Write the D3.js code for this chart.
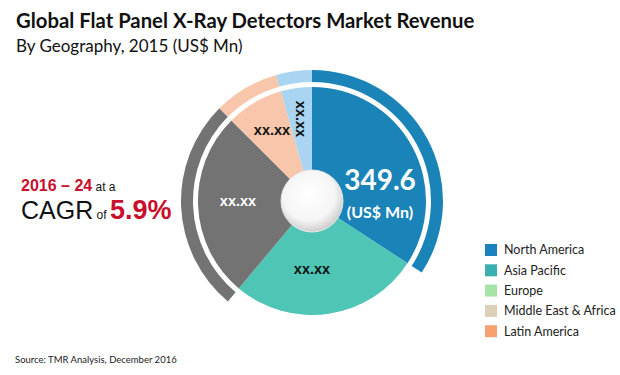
<!DOCTYPE html>
<html>
<head>
<meta charset="utf-8">
<script src="https://cdn.jsdelivr.net/npm/d3@7"></script>
<style>
    body { margin: 0; background: #fff; }
    .calib { font-family: Lato, "Open Sans", sans-serif; }
    .arial { font-family: "Liberation Sans", Arial, sans-serif; }
</style>
</head>
<body>
<div id="chart"></div>
<script>
// pie slices (share of the circle)
const regions = ["North America", "Asia Pacific", "Rest of World", "Latin America", "Middle East & Africa"];
const shares = [34.2, 26.9, 26.4, 8.1, 4.4];
const sliceLabels = ["", "xx.xx", "xx.xx", "xx.xx", "xx.xx"];
const sliceColors = ["#1a84b8", "#4ec5b5", "#737373", "#f8c6aa", "#a9d5f3"];
const hasRing = [true, false, true, true, true];

// legend
const legendNames = ["North America", "Asia Pacific", "Europe", "Middle East & Africa", "Latin America"];
const legendColors = ["#1b7fc0", "#3aafb0", "#a6e3a6", "#ddd0b8", "#f7a070"];

const totalValue = "349.6";

let width = 620, height = 375;
let cx = 312, cy = 201;

let svg = d3.select("#chart").append("svg")
    .attr("width", width)
    .attr("height", height);

// title
svg.append("text")
    .attr("class", "calib")
    .attr("x", 16).attr("y", 28)
    .style("font-size", "20.3px")
    .style("font-weight", "bold")
    .attr("fill", "#111")
    .text("Global Flat Panel X-Ray Detectors Market Revenue");

svg.append("text")
    .attr("class", "calib")
    .attr("x", 16).attr("y", 52)
    .style("font-size", "17px")
    .attr("fill", "#111")
    .text("By Geography, 2015 (US$ Mn)");

// pie
let data = regions.map((r, i) => ({region: r, share: shares[i], label: sliceLabels[i], color: sliceColors[i], ring: hasRing[i]}));

let pie = d3.pie().sort(null).value(d => d.share);
let arcs = pie(data);

let g = svg.append("g").attr("transform", "translate(" + cx + "," + cy + ")");

let arc = d3.arc().innerRadius(0).outerRadius(114);
let ringArc = d3.arc().innerRadius(119).outerRadius(131);

g.selectAll(".ring")
    .data(arcs.filter(d => d.data.ring))
    .enter().append("path")
    .attr("class", "ring")
    .attr("fill", d => d.data.color)
    .attr("d", ringArc);

g.selectAll(".slice")
    .data(arcs)
    .enter().append("path")
    .attr("class", "slice")
    .attr("fill", d => d.data.color)
    .attr("d", arc);

// centre knob
let defs = svg.append("defs");
let grad = defs.append("radialGradient")
    .attr("id", "knob")
    .attr("cx", "45%").attr("cy", "40%").attr("r", "60%");
grad.append("stop").attr("offset", "0%").attr("stop-color", "#ffffff");
grad.append("stop").attr("offset", "70%").attr("stop-color", "#f5f5f5");
grad.append("stop").attr("offset", "100%").attr("stop-color", "#cdcdcd");

g.append("circle")
    .attr("r", 31)
    .attr("fill", "url(#knob)")
    .attr("stroke", "#e8e8e8")
    .attr("stroke-width", 1);

// slice labels
let labelPos = {
    "Asia Pacific": [0, 68, 0, "#111"],
    "Rest of World": [-74, 0, 0, "#fff"],
    "Latin America": [-40, -71, 0, "#111"],
    "Middle East & Africa": [-11, -82, 90, "#111"]
};
g.selectAll(".slabel")
    .data(arcs.filter(d => d.data.label !== ""))
    .enter().append("text")
    .attr("class", "slabel arial")
    .attr("text-anchor", "middle")
    .attr("dy", "0.35em")
    .attr("transform", d => {
        let p = labelPos[d.data.region];
        return "translate(" + p[0] + "," + p[1] + ") rotate(" + p[2] + ")";
    })
    .attr("fill", d => labelPos[d.data.region][3])
    .style("font-size", "14.5px")
    .style("font-weight", "bold")
    .text(d => d.data.label);

g.append("text")
    .attr("class", "calib")
    .attr("x", 68).attr("y", -11)
    .attr("text-anchor", "middle")
    .attr("fill", "#fff")
    .style("font-size", "28px")
    .style("font-weight", "bold")
    .text(totalValue);

g.append("text")
    .attr("class", "calib")
    .attr("x", 68).attr("y", 17)
    .attr("text-anchor", "middle")
    .attr("fill", "#fff")
    .style("font-size", "16px")
    .style("font-weight", "bold")
    .text("(US$ Mn)");

// CAGR note
let t1 = svg.append("text").attr("class", "arial").attr("x", 21).attr("y", 191);
t1.append("tspan").attr("fill", "#c8102e").style("font-size", "16px").style("font-weight", "bold").text("2016 \u2013 24");
t1.append("tspan").attr("fill", "#111").style("font-size", "12px").text(" at a");

let t2 = svg.append("text").attr("class", "arial").attr("x", 21).attr("y", 219);
t2.append("tspan").attr("fill", "#111").style("font-size", "25px").text("CAGR");
t2.append("tspan").attr("fill", "#111").style("font-size", "12px").text(" of ");
t2.append("tspan").attr("fill", "#c8102e").style("font-size", "27px").style("font-weight", "bold").text("5.9%");

// legend
let legend = svg.selectAll(".legend")
    .data(legendNames)
    .enter().append("g")
    .attr("class", "legend")
    .attr("transform", (d, i) => "translate(485," + (244 + i * 20.3) + ")");

legend.append("rect")
    .attr("width", 12).attr("height", 12)
    .attr("fill", (d, i) => legendColors[i]);

legend.append("text")
    .attr("class", "calib")
    .attr("x", 19).attr("y", 6)
    .attr("dy", "0.35em")
    .attr("fill", "#222")
    .style("font-size", "12.5px")
    .text(d => d);

// source
svg.append("text")
    .attr("class", "calib")
    .attr("x", 15).attr("y", 363)
    .attr("fill", "#222")
    .style("font-size", "9.5px")
    .text("Source:  TMR Analysis, December 2016");
</script>
</body>
</html>
